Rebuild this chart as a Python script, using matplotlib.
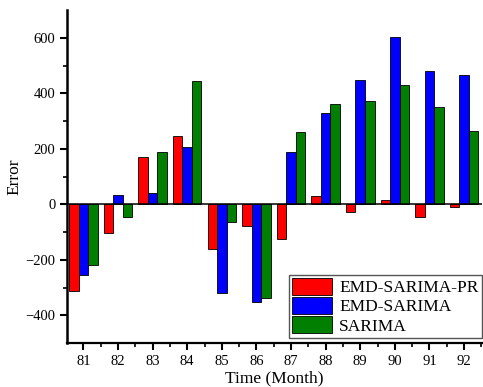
import matplotlib
matplotlib.use("Agg")
import matplotlib.pyplot as plt
import numpy as np

plt.rcParams['font.family'] = ['Liberation Serif', 'DejaVu Serif']

months = [81, 82, 83, 84, 85, 86, 87, 88, 89, 90, 91, 92]
emd_sarima_pr = [-311, -105, 171, 246, -162, -77, -126, 31, -28, 15, -47, -11]
emd_sarima = [-255, 33, 42, 207, -319, -353, 190, 330, 447, 602, 480, 465]
sarima = [-219, -47, 187, 444, -64, -339, 260, 360, 373, 432, 352, 264]

fig = plt.figure(figsize=(4.83, 3.87), dpi=100)
ax = fig.add_axes([0.139, 0.1137, 0.859, 0.860])

x = np.array(months)
w = 0.275
ax.bar(x - w, emd_sarima_pr, width=w, color='#ff0000', edgecolor='black', linewidth=0.6, label='EMD-SARIMA-PR')
ax.bar(x, emd_sarima, width=w, color='#0000ff', edgecolor='black', linewidth=0.6, label='EMD-SARIMA')
ax.bar(x + w, sarima, width=w, color='#007f00', edgecolor='black', linewidth=0.6, label='SARIMA')
ax.axhline(0, color='black', linewidth=1.1)

ax.set_xlim(80.53, 92.52)
ax.set_ylim(-500, 700)
ax.set_xticks(months)
ax.set_xticks(x + 0.5, minor=True)
ax.set_yticks([-400, -200, 0, 200, 400, 600])
ax.set_yticks([-300, -100, 100, 300, 500], minor=True)
ax.set_yticklabels(['\u2212400', '\u2212200', '0', '200', '400', '600'])

for s in ['top', 'right']:
    ax.spines[s].set_visible(False)
ax.spines['left'].set_linewidth(1.8)
ax.spines['bottom'].set_linewidth(1.6)
ax.tick_params(which='major', direction='out', length=5, width=1.5, labelsize=10.5)
ax.tick_params(which='minor', direction='out', length=3, width=1.2)

ax.set_xlabel('Time (Month)', fontsize=12.5, labelpad=2)
ax.set_ylabel('Error', fontsize=12.5, labelpad=2)

leg = ax.legend(loc='lower right', fontsize=12.5, handlelength=2.3, handleheight=1.1,
                labelspacing=0.05, borderpad=0.2, handletextpad=0.4,
                fancybox=False, framealpha=1, edgecolor='#555555',
                bbox_to_anchor=(1.0, 0.015), borderaxespad=0.0)
leg.get_frame().set_linewidth(1.0)

fig.savefig('out.png', dpi=100)
